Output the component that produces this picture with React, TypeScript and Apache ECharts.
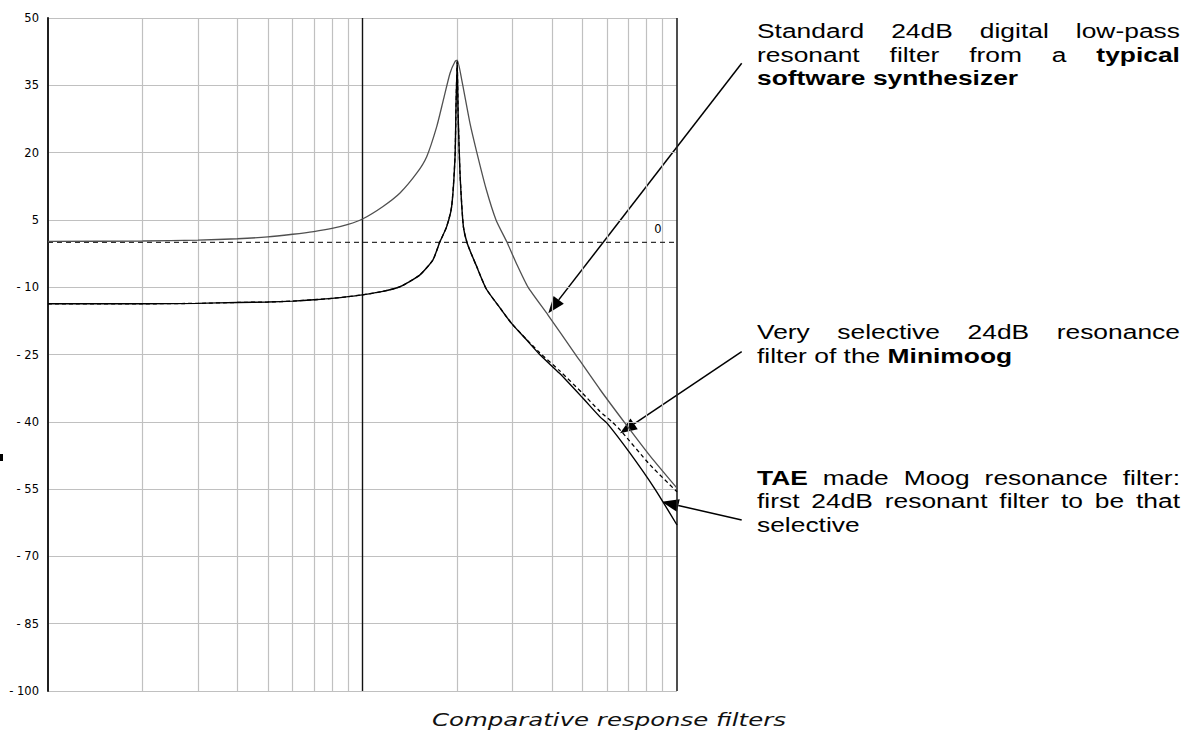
import React, { useEffect, useRef } from "react";
import * as echarts from "echarts";

// ---------- axes ----------
const Y_MIN = -100;
const Y_MAX = 50;
const Y_STEP = 15;
const X_MIN = 10;
const X_MAX = 1000;
const majorGridFreqs = [100];
const edgeFreqs = [10, 1000];
const minorGridFreqs = [20, 30, 40, 50, 60, 70, 80, 90, 200, 300, 400, 500, 600, 700, 800, 900];
const zeroLevel = 0;

// ---------- curves (frequency, dB) ----------
const standardFreq = [10, 20, 30, 40, 50, 60, 70, 80, 90, 100, 116.2, 131.6, 148.7, 160, 172.2, 180.7, 189.8, 196.9, 200, 206.8, 219.7, 231, 247, 265.8, 288.1, 309.9, 336, 388.9, 470.4, 569.1, 683.4, 820.8, 1000];
const standardDb = [0.2, 0.3, 0.5, 0.8, 1.2, 1.8, 2.4, 3.1, 4.0, 5.2, 8.0, 11.0, 15.4, 19.1, 25.8, 31.7, 37.7, 40.3, 40.6, 36.2, 26.5, 20, 12, 5, 0, -5, -10, -16.2, -24.5, -32.8, -40.3, -47.6, -54.8];

const taeFreq = [10, 20, 30, 40, 50, 60, 70, 80, 90, 100, 115, 131.5, 152, 167.5, 176, 185.2, 192.1, 196.9, 198.3, 200, 201.5, 204.2, 209.3, 215.5, 230.7, 247.6, 273.6, 297.3, 330, 365.9, 423.2, 500, 569, 599, 709, 851, 1000];
const taeDb = [-13.7, -13.7, -13.6, -13.4, -13.3, -13.1, -12.8, -12.5, -12.1, -11.7, -11.0, -9.9, -7.3, -3.9, 0, 3.5, 8.0, 19.1, 30.2, 40.3, 28, 15.4, 3.5, -0.3, -5.4, -10.4, -14.6, -18, -21.5, -25, -29.2, -34.6, -38.9, -40.3, -47, -55, -63];

const minimoogFreq = [10, 20, 30, 40, 50, 60, 70, 80, 90, 100, 115, 131.5, 152, 167.5, 176, 185.2, 192.1, 196.9, 198.3, 200, 201.5, 204.2, 209.3, 215.5, 230.7, 247.6, 273.6, 297.3, 330, 365.9, 423.2, 500, 569, 621, 659, 821, 1000];
const minimoogDb = [-13.7, -13.7, -13.6, -13.4, -13.3, -13.1, -12.8, -12.5, -12.1, -11.7, -11.0, -9.9, -7.3, -3.9, 0, 3.5, 8.0, 19.1, 30.2, 40.3, 28, 15.4, 3.5, -0.3, -5.4, -10.4, -14.6, -18, -21.4, -24.6, -28.6, -33.6, -37.7, -40, -41.8, -49.6, -55.6];

// ---------- texts ----------
type W = { t: string; b?: boolean };
const note1: W[][] = [
  [{ t: "Standard" }, { t: "24dB" }, { t: "digital" }, { t: "low-pass" }],
  [{ t: "resonant" }, { t: "filter" }, { t: "from" }, { t: "a" }, { t: "typical", b: true }],
  [{ t: "software", b: true }, { t: "synthesizer", b: true }],
];
const note2: W[][] = [
  [{ t: "Very" }, { t: "selective" }, { t: "24dB" }, { t: "resonance" }],
  [{ t: "filter" }, { t: "of" }, { t: "the" }, { t: "Minimoog", b: true }],
];
const note3: W[][] = [
  [{ t: "TAE", b: true }, { t: "made" }, { t: "Moog" }, { t: "resonance" }, { t: "filter:" }],
  [{ t: "first" }, { t: "24dB" }, { t: "resonant" }, { t: "filter" }, { t: "to" }, { t: "be" }, { t: "that" }],
  [{ t: "selective" }],
];
const caption = "Comparative response filters";

const ANNOT_FAMILY = '"Liberation Sans", Arial, sans-serif';
const LABEL_FAMILY = '"DejaVu Sans", Tahoma, sans-serif';
const FS = 20;
const SX = 1.32;

let mctx: CanvasRenderingContext2D | null = null;
function measure(t: string, bold?: boolean) {
  if (!mctx) mctx = document.createElement("canvas").getContext("2d");
  mctx!.font = `${bold ? "bold " : ""}${FS}px ${ANNOT_FAMILY}`;
  return mctx!.measureText(t).width;
}

function blockEls(lines: W[][], left: number, right: number, firstBaseline: number, lineGap: number) {
  const els: any[] = [];
  lines.forEach((words, li) => {
    const last = li === lines.length - 1;
    const widths = words.map((w) => measure(w.t, w.b) * SX);
    const total = widths.reduce((a, b) => a + b, 0);
    const gap = !last && words.length > 1 ? (right - left - total) / (words.length - 1) : measure(" ") * SX;
    const baseline = firstBaseline + li * lineGap;
    let x = left;
    words.forEach((w, i) => {
      els.push({
        type: "text",
        x,
        y: baseline - 0.3465 * FS,
        scaleX: SX,
        silent: true,
        style: {
          text: w.t,
          x: 0,
          y: 0,
          fill: "#000",
          fontSize: FS,
          fontWeight: w.b ? "bold" : "normal",
          fontFamily: ANNOT_FAMILY,
          align: "left",
          verticalAlign: "middle",
        },
      });
      x += widths[i] + gap;
    });
  });
  return els;
}

function arrowEls(x1: number, y1: number, x2: number, y2: number) {
  const dx = x2 - x1, dy = y2 - y1;
  const len = Math.hypot(dx, dy);
  const ux = dx / len, uy = dy / len;
  const hl = 17, hw = 6.5;
  const bx = x2 - ux * hl, by = y2 - uy * hl;
  return [
    { type: "line", silent: true, shape: { x1, y1, x2: bx, y2: by }, style: { stroke: "#000", lineWidth: 1.5 } },
    {
      type: "polygon",
      silent: true,
      shape: { points: [[x2, y2], [bx - uy * hw, by + ux * hw], [bx + uy * hw, by - ux * hw]] },
      style: { fill: "#000" },
    },
  ];
}

const toPairs = (f: number[], d: number[]) => f.map((v, i) => [v, d[i] - Y_MIN]);

export default function App() {
  const ref = useRef<HTMLDivElement>(null);
  useEffect(() => {
    const chart = echarts.init(ref.current!, null, { renderer: "svg" });
    const lineMark = (v: number, color: string, width: number) => ({
      xAxis: v,
      lineStyle: { color, width, type: "solid" },
    });
    const curve = (name: string, f: number[], d: number[], z: number, lineStyle: any) => ({
      type: "line",
      name,
      data: toPairs(f, d),
      symbol: "none",
      silent: true,
      smooth: 0.2,
      z,
      lineStyle,
    });
    const option: any = {
      animation: false,
      backgroundColor: "#fff",
      grid: { left: 48, right: 508, top: 18, bottom: 40 },
      xAxis: {
        type: "log",
        logBase: 10,
        min: X_MIN,
        max: X_MAX,
        axisLine: { show: false },
        axisTick: { show: false },
        axisLabel: { show: false },
        splitLine: { show: false },
      },
      yAxis: {
        type: "value",
        min: 0,
        max: Y_MAX - Y_MIN,
        interval: Y_STEP,
        axisLine: { show: true, lineStyle: { color: "#000", width: 1.8 } },
        axisTick: { show: false },
        axisLabel: {
          margin: 9,
          color: "#000",
          fontFamily: LABEL_FAMILY,
          fontSize: 11.5,
          formatter: (v: number) => {
            const d = Math.round(v + Y_MIN);
            return d < 0 ? "- " + -d : String(d);
          },
        },
        splitLine: { show: true, lineStyle: { color: "#c0c0c0", width: 1.2 } },
      },
      series: [
        {
          type: "line",
          name: "zero",
          data: [[X_MIN, zeroLevel - Y_MIN], [X_MAX, zeroLevel - Y_MIN]],
          symbol: "none",
          silent: true,
          z: 6,
          lineStyle: { color: "#333", width: 1.1, type: [5, 4] },
          markLine: {
            silent: true,
            symbol: "none",
            label: { show: false },
            z: 1,
            data: [
              ...minorGridFreqs.map((f) => lineMark(f, "#c0c0c0", 1.2)),
              ...majorGridFreqs.map((f) => lineMark(f, "#111", 1.4)),
              ...edgeFreqs.map((f) => lineMark(f, "#222", 1.6)),
            ],
          },
        },
        curve("Standard 24dB", standardFreq, standardDb, 10, { color: "#505050", width: 1.3 }),
        curve("TAE", taeFreq, taeDb, 11, { color: "#000", width: 1.4 }),
        curve("Minimoog", minimoogFreq, minimoogDb, 12, { color: "#000", width: 1.3, type: [4, 3] }),
      ],
      graphic: [
        ...blockEls(note1, 757, 1180, 38.3, 23.4),
        ...blockEls(note2, 757, 1180, 339.3, 23.4),
        ...blockEls(note3, 757, 1180, 485, 23.4),
        ...arrowEls(741.7, 63.3, 548.3, 313.3),
        ...arrowEls(741.7, 351.7, 620, 433.3),
        ...arrowEls(741.7, 520, 661.7, 501.7),
        {
          type: "text",
          x: 658,
          y: 229,
          silent: true,
          style: { text: "0", fill: "#000", fontSize: 11.5, fontFamily: LABEL_FAMILY, align: "center", verticalAlign: "middle" },
        },
        {
          type: "text",
          x: 609,
          y: 719.6,
          scaleX: SX,
          silent: true,
          style: {
            text: caption,
            x: 0,
            y: 0,
            fill: "#111",
            fontSize: 18.5,
            fontStyle: "italic",
            fontFamily: '"DejaVu Sans", Verdana, sans-serif',
            align: "center",
            verticalAlign: "middle",
          },
        },
        { type: "rect", silent: true, shape: { x: 0, y: 454, width: 3, height: 7 }, style: { fill: "#000" } },
      ],
    };
    chart.setOption(option);
    return () => chart.dispose();
  }, []);
  return <div ref={ref} style={{ position: "absolute", left: 0, top: 0, width: 1185, height: 731, background: "#fff" }} />;
}
